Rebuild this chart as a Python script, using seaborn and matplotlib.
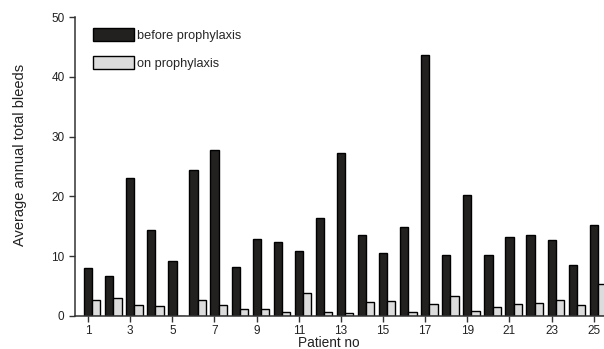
import numpy as np
import pandas as pd
import matplotlib.pyplot as plt
import seaborn as sns

# values
patients = list(range(1, 26))
before = [8.0, 6.7, 23.0, 14.4, 9.2, 24.4, 27.8, 8.2, 12.9, 12.4, 10.9, 16.4, 27.2,
          13.6, 10.5, 14.8, 43.6, 10.2, 20.2, 10.2, 13.2, 13.5, 12.7, 8.5, 15.2]
on_proph = [2.7, 3.0, 1.9, 1.6, 0.0, 2.6, 1.9, 1.1, 1.2, 0.6, 3.8, 0.6, 0.55,
            2.4, 2.55, 0.7, 2.05, 3.3, 0.9, 1.45, 1.95, 2.2, 2.7, 1.8, 5.3]
series = ["before prophylaxis", "on prophylaxis"]
colors = ["#231f20", "#dcdcdc"]

df = pd.DataFrame({
    "patient": patients * 2,
    "period": [series[0]] * len(patients) + [series[1]] * len(patients),
    "bleeds": before + on_proph,
})

sns.set_style("ticks")
plt.rcParams["font.family"] = ["Liberation Sans", "DejaVu Sans"]

fig = plt.figure(figsize=(6.04, 3.49), dpi=100)
ax = fig.add_axes([75 / 604, 1 - 316 / 349, 1 - 75 / 604, (316 - 17) / 349])

sns.barplot(data=df, x="patient", y="bleeds", hue="period", palette=colors,
            width=0.78, edgecolor="black", linewidth=1.0, ax=ax)

ax.set_ylim(0, 50)
ax.set_yticks([0, 10, 20, 30, 40, 50])
ax.set_xlim(-0.82, 24.29)
odd = [i for i, p in enumerate(patients) if p % 2 == 1]
ax.set_xticks([i - 0.2 for i in odd])
ax.set_xticklabels([str(patients[i]) for i in odd])
ax.tick_params(axis="both", labelsize=8.5, length=4, width=1, color="#333333",
               labelcolor="#222222")
ax.tick_params(axis="x", pad=2.5)
sns.despine(ax=ax)
for s in ["left", "bottom"]:
    ax.spines[s].set_linewidth(1.1)
    ax.spines[s].set_color("#333333")

ax.set_ylabel("Average annual total bleeds", fontsize=10.5, color="#222222")
ax.set_xlabel("Patient no", fontsize=9.8, color="#222222")
ax.xaxis.set_label_coords(0.48, -0.068)
ax.yaxis.set_label_coords(-0.091, 0.54)

leg = ax.legend(loc="upper left", bbox_to_anchor=(0.019, 0.99), frameon=False,
                fontsize=9.2, handlelength=3.2, handleheight=1.2,
                labelspacing=1.15, handletextpad=0.3, borderaxespad=0.2)
leg.set_title(None)

fig.savefig("out.png", dpi=100)
plt.close(fig)
